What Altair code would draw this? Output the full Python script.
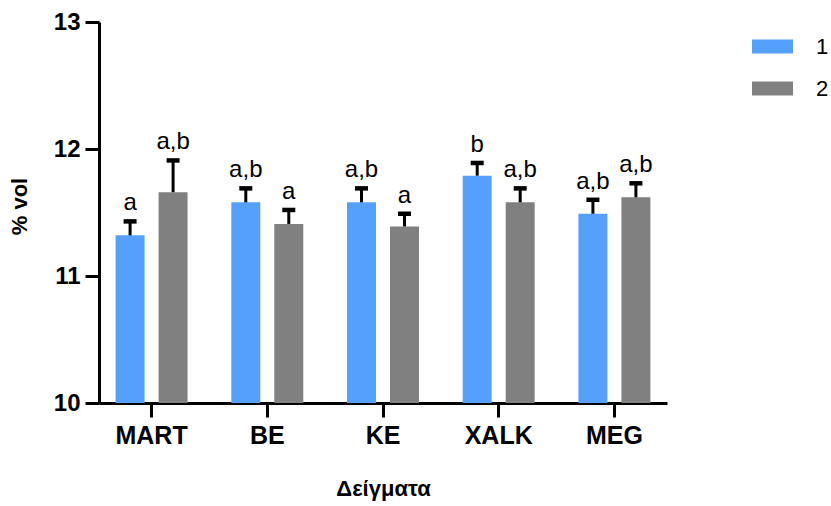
import altair as alt
import pandas as pd

# Samples and the two measurement series (mean % vol, standard deviation, significance letters)
samples = ["MART", "BE", "KE", "XALK", "MEG"]
series_names = ["1", "2"]
mean_1 = [11.32, 11.58, 11.58, 11.79, 11.49]
sd_1 = [0.11, 0.11, 0.11, 0.10, 0.11]
mean_2 = [11.66, 11.41, 11.39, 11.58, 11.62]
sd_2 = [0.25, 0.11, 0.10, 0.11, 0.11]
letters_1 = ["a", "a,b", "a,b", "b", "a,b"]
letters_2 = ["a,b", "a", "a", "a,b", "a,b"]

rows = []
for i, s in enumerate(samples):
    rows.append({"sample": s, "series": "1", "mean": mean_1[i], "sd": sd_1[i], "letter": letters_1[i]})
    rows.append({"sample": s, "series": "2", "mean": mean_2[i], "sd": sd_2[i], "letter": letters_2[i]})
df = pd.DataFrame(rows)
df["top"] = df["mean"] + df["sd"]
df["base"] = 10.0

FONT = "Liberation Sans"
BLUE = "#55A0FB"
GREY = "#808080"

x_enc = alt.X(
    "sample:N",
    sort=samples,
    scale=alt.Scale(paddingInner=0.378, paddingOuter=0.1435),
    axis=alt.Axis(
        title="Δείγματα",
        labelAngle=0,
        labelFontSize=25,
        labelFontWeight="bold",
        labelPadding=6,
        titleFontSize=22,
        titleFontWeight="bold",
        titlePadding=30,
    ),
)
x_off = alt.XOffset("series:N", sort=series_names, scale=alt.Scale(paddingInner=0.326, paddingOuter=0))
y_scale = alt.Scale(domain=[10, 13], nice=False, zero=False)

bars = alt.Chart(df).mark_bar().encode(
    x=x_enc,
    xOffset=x_off,
    y=alt.Y(
        "mean:Q",
        scale=y_scale,
        axis=alt.Axis(
            title="% vol",
            values=[10, 11, 12, 13],
            format="d",
            labelFontSize=24,
            labelFontWeight="bold",
            labelPadding=5,
            titleFontSize=22,
            titleFontWeight="bold",
            titlePadding=22,
            titleY=184,
        ),
    ),
    y2="base:Q",
    color=alt.Color(
        "series:N",
        sort=series_names,
        scale=alt.Scale(domain=series_names, range=[BLUE, GREY]),
        legend=alt.Legend(
            title=None,
            orient="none",
            legendX=653,
            legendY=4,
            symbolType="M-1,-0.341L1,-0.341L1,0.341L-1,0.341Z",
            symbolSize=1681,
            symbolStrokeWidth=0,
            symbolOpacity=1,
            labelFontSize=22,
            labelFont=FONT,
            labelOffset=23,
            rowPadding=10,
            padding=0,
        ),
    ),
)

err_line = alt.Chart(df).mark_rule(color="black", strokeWidth=3).encode(
    x=alt.X("sample:N", sort=samples),
    xOffset=x_off,
    y=alt.Y("mean:Q", scale=y_scale),
    y2="top:Q",
)

err_cap = alt.Chart(df).mark_tick(color="black", thickness=4.5, size=13, opacity=1).encode(
    x=alt.X("sample:N", sort=samples),
    xOffset=x_off,
    y=alt.Y("top:Q", scale=y_scale),
)

labels = alt.Chart(df).mark_text(
    baseline="bottom", dy=-6, fontSize=24, font=FONT, color="black"
).encode(
    x=alt.X("sample:N", sort=samples),
    xOffset=x_off,
    y=alt.Y("top:Q", scale=y_scale),
    text="letter:N",
)

chart = (
    alt.layer(bars, err_line, err_cap, labels)
    .properties(
        width=568,
        height=381,
        autosize=alt.AutoSizeParams(type="none"),
        padding={"left": 99, "top": 22, "right": 164, "bottom": 103},
    )
    .configure(font=FONT)
    .configure_view(stroke=None)
    .configure_axis(
        grid=False,
        domainColor="black",
        domainWidth=3,
        tickColor="black",
        tickWidth=3,
        tickSize=14,
        labelColor="black",
        titleColor="black",
        labelFont=FONT,
        titleFont=FONT,
    )
)

chart.save("out.html", embed_options={"renderer": "svg", "actions": False})
